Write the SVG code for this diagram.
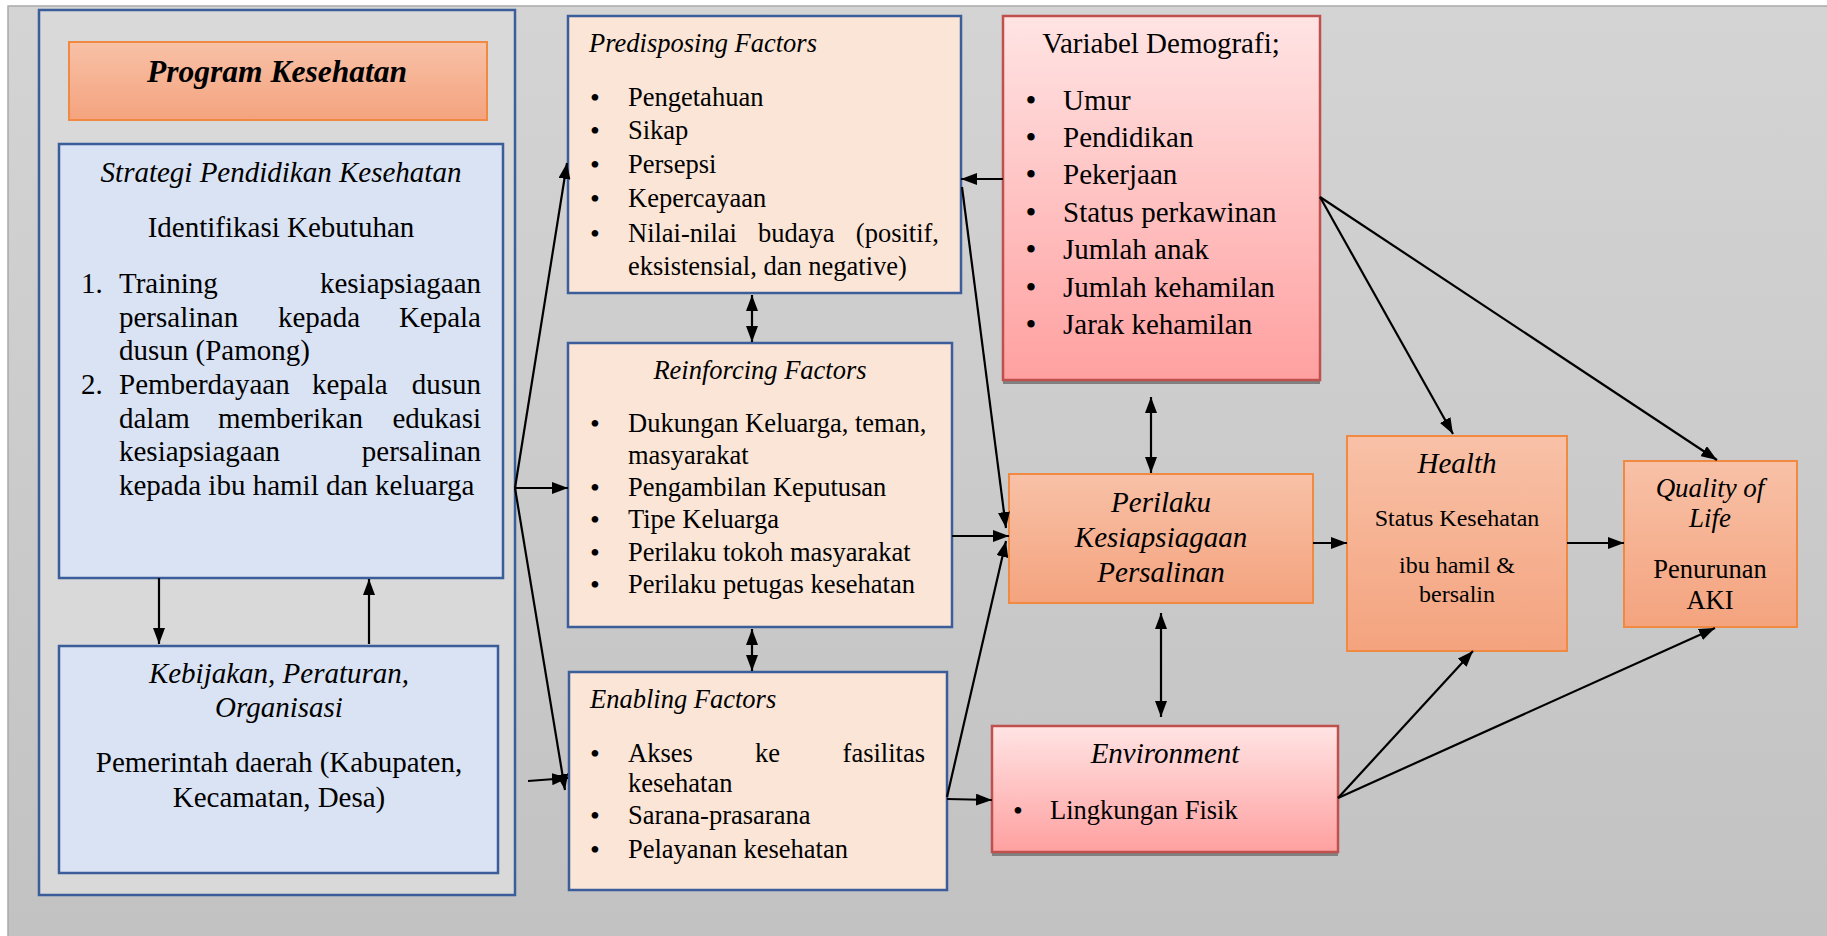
<svg xmlns="http://www.w3.org/2000/svg" width="1827" height="936" viewBox="0 0 1827 936">
<defs>
<linearGradient id="bg" x1="0" y1="0" x2="0" y2="1"><stop offset="0" stop-color="#d4d4d4"/><stop offset="1" stop-color="#c2c2c2"/></linearGradient>
<linearGradient id="org" x1="0" y1="0" x2="0" y2="1"><stop offset="0" stop-color="#f8c1a7"/><stop offset="1" stop-color="#f4a37e"/></linearGradient>
<linearGradient id="pnk" x1="0" y1="0" x2="0" y2="1"><stop offset="0" stop-color="#ffe4e4"/><stop offset="1" stop-color="#ffa0a0"/></linearGradient>
<marker id="ah" viewBox="0 0 16 12" refX="16" refY="6" markerWidth="16" markerHeight="12" markerUnits="userSpaceOnUse" orient="auto-start-reverse"><path d="M0,0 L16,6 L0,12 z" fill="#000"/></marker>
</defs>
<style>
.t{font-family:"Liberation Serif","Times New Roman",serif;fill:#000}
.i{font-style:italic}
.c{text-anchor:middle}
.e{text-anchor:end}
.f29{font-size:29px}
.f26{font-size:26.5px}
.f24{font-size:24px}
.f27{font-size:27px}
.bu{font-size:28px;text-anchor:middle}
.bd{font-size:31px;text-anchor:middle}
.blue{fill:#dae3f3;stroke:#3b5d9a;stroke-width:2.5}
.fac{fill:#fbe5d6;stroke:#3b5d9a;stroke-width:2.5}
.orange{fill:url(#org);stroke:#f08a43;stroke-width:2}
.pink{fill:url(#pnk);stroke:#c0504d;stroke-width:2.5}
.shadow{fill:#808080}
.ln{stroke:#000;stroke-width:2.2;fill:none}
.a{marker-end:url(#ah)}
.b{marker-start:url(#ah);marker-end:url(#ah)}
</style>
<rect x="0" y="0" width="1827" height="936" fill="#ffffff"/>
<rect x="8" y="6" width="1822" height="935" fill="url(#bg)" stroke="#a9a9a9" stroke-width="1.5"/>

<g id="program-outer">
<rect x="39" y="10" width="476" height="885" fill="#d9d9d9" stroke="#3b5d9a" stroke-width="2.5"/>
</g>
<g id="program-kesehatan">
<rect x="69" y="42" width="418" height="78" class="orange"/>
<text x="277" y="82" class="t c i" style="font-weight:bold;font-size:31.5px">Program Kesehatan</text>
</g>
<g id="strategi">
<rect x="59" y="144" width="444" height="434" class="blue"/>
<text x="281" y="182" class="t c i f29">Strategi Pendidikan Kesehatan</text>
<text x="281" y="237" class="t c f29">Identifikasi Kebutuhan</text>
<text x="81" y="293" class="t f29">1.</text>
<text x="119" y="293" class="t f29">Training</text>
<text x="481" y="293" class="t e f29">kesiapsiagaan</text>
<text x="119" y="327" class="t f29">persalinan</text>
<text x="278" y="327" class="t f29">kepada</text>
<text x="481" y="327" class="t e f29">Kepala</text>
<text x="119" y="360" class="t f29">dusun (Pamong)</text>
<text x="81" y="394" class="t f29">2.</text>
<text x="119" y="394" class="t f29">Pemberdayaan</text>
<text x="312" y="394" class="t f29">kepala</text>
<text x="481" y="394" class="t e f29">dusun</text>
<text x="119" y="428" class="t f29">dalam</text>
<text x="218" y="428" class="t f29">memberikan</text>
<text x="481" y="428" class="t e f29">edukasi</text>
<text x="119" y="461" class="t f29">kesiapsiagaan</text>
<text x="481" y="461" class="t e f29">persalinan</text>
<text x="119" y="495" class="t f29">kepada ibu hamil dan keluarga</text>
</g>
<g id="kebijakan">
<rect x="59" y="646" width="439" height="227" class="blue"/>
<text x="279" y="683" class="t c i f29">Kebijakan, Peraturan,</text>
<text x="279" y="717" class="t c i f29">Organisasi</text>
<text x="279" y="772" class="t c f29">Pemerintah daerah (Kabupaten,</text>
<text x="279" y="807" class="t c f29">Kecamatan, Desa)</text>
</g>

<g id="predisposing">
<rect x="568" y="16" width="393" height="277" class="fac"/>
<text x="589" y="52" class="t i f26">Predisposing Factors</text>
<g class="t f26">
<text x="595" y="107" class="bu">•</text><text x="628" y="106">Pengetahuan</text>
<text x="595" y="140" class="bu">•</text><text x="628" y="139">Sikap</text>
<text x="595" y="174" class="bu">•</text><text x="628" y="173">Persepsi</text>
<text x="595" y="208" class="bu">•</text><text x="628" y="207">Kepercayaan</text>
<text x="595" y="243" class="bu">•</text><text x="628" y="242">Nilai-nilai</text><text x="758" y="242">budaya</text><text x="939" y="242" class="e">(positif,</text>
<text x="628" y="275">eksistensial, dan negative)</text>
</g>
</g>
<g id="reinforcing">
<rect x="568" y="343" width="384" height="284" class="fac"/>
<text x="760" y="379" class="t c i f26">Reinforcing Factors</text>
<g class="t f26">
<text x="595" y="433" class="bu">•</text><text x="628" y="432">Dukungan Keluarga, teman,</text>
<text x="628" y="464">masyarakat</text>
<text x="595" y="497" class="bu">•</text><text x="628" y="496">Pengambilan Keputusan</text>
<text x="595" y="529" class="bu">•</text><text x="628" y="528">Tipe Keluarga</text>
<text x="595" y="562" class="bu">•</text><text x="628" y="561">Perilaku tokoh masyarakat</text>
<text x="595" y="594" class="bu">•</text><text x="628" y="593">Perilaku petugas kesehatan</text>
</g>
</g>
<g id="enabling">
<rect x="569" y="672" width="378" height="218" class="fac"/>
<text x="590" y="708" class="t i f26">Enabling Factors</text>
<g class="t f26">
<text x="595" y="763" class="bu">•</text><text x="628" y="762">Akses</text><text x="755" y="762">ke</text><text x="925" y="762" class="e">fasilitas</text>
<text x="628" y="792">kesehatan</text>
<text x="595" y="825" class="bu">•</text><text x="628" y="824">Sarana-prasarana</text>
<text x="595" y="859" class="bu">•</text><text x="628" y="858">Pelayanan kesehatan</text>
</g>
</g>

<g id="demografi">
<rect x="1003" y="20" width="317" height="364" class="shadow"/>
<rect x="1003" y="16" width="317" height="364" class="pink"/>
<g class="t f29">
<text x="1161" y="53" class="c">Variabel Demografi;</text>
<text x="1031" y="111" class="bd">•</text><text x="1063" y="110">Umur</text>
<text x="1031" y="148" class="bd">•</text><text x="1063" y="147">Pendidikan</text>
<text x="1031" y="185" class="bd">•</text><text x="1063" y="184">Pekerjaan</text>
<text x="1031" y="223" class="bd">•</text><text x="1063" y="222">Status perkawinan</text>
<text x="1031" y="260" class="bd">•</text><text x="1063" y="259">Jumlah anak</text>
<text x="1031" y="298" class="bd">•</text><text x="1063" y="297">Jumlah kehamilan</text>
<text x="1031" y="335" class="bd">•</text><text x="1063" y="334">Jarak kehamilan</text>
</g>
</g>
<g id="perilaku">
<rect x="1009" y="474" width="304" height="129" class="orange"/>
<text x="1161" y="512" class="t c i f29">Perilaku</text>
<text x="1161" y="547" class="t c i f29">Kesiapsiagaan</text>
<text x="1161" y="582" class="t c i f29">Persalinan</text>
</g>
<g id="environment">
<rect x="992" y="730" width="346" height="126" class="shadow"/>
<rect x="992" y="726" width="346" height="126" class="pink"/>
<text x="1165" y="763" class="t c i f29">Environment</text>
<text x="1018" y="820" class="t bu">•</text>
<text x="1050" y="819" class="t f26">Lingkungan Fisik</text>
</g>
<g id="health">
<rect x="1347" y="436" width="220" height="215" class="orange"/>
<text x="1457" y="473" class="t c i f29">Health</text>
<text x="1457" y="526" class="t c f24">Status Kesehatan</text>
<text x="1457" y="573" class="t c f24">ibu hamil &amp;</text>
<text x="1457" y="602" class="t c f24">bersalin</text>
</g>
<g id="quality">
<rect x="1624" y="461" width="173" height="166" class="orange"/>
<text x="1710" y="497" class="t c i f27">Quality of</text>
<text x="1710" y="527" class="t c i f27">Life</text>
<text x="1710" y="578" class="t c f26">Penurunan</text>
<text x="1710" y="609" class="t c f26">AKI</text>
</g>

<g id="connectors">
<line x1="159" y1="578" x2="159" y2="644" class="ln a"/>
<line x1="369" y1="644" x2="369" y2="579" class="ln a"/>
<line x1="515" y1="488" x2="567" y2="163" class="ln a"/>
<line x1="515" y1="488" x2="568" y2="488" class="ln a"/>
<line x1="515" y1="488" x2="565" y2="790" class="ln a"/>
<line x1="528" y1="781" x2="568" y2="778" class="ln a"/>
<line x1="752" y1="295" x2="752" y2="342" class="ln b"/>
<line x1="752" y1="629" x2="752" y2="671" class="ln b"/>
<line x1="1003" y1="179" x2="961" y2="179" class="ln a"/>
<line x1="962" y1="187" x2="1006" y2="528" class="ln a"/>
<line x1="952" y1="536" x2="1009" y2="536" class="ln a"/>
<line x1="947" y1="797" x2="1006" y2="541" class="ln a"/>
<line x1="947" y1="799" x2="992" y2="800" class="ln a"/>
<line x1="1151" y1="397" x2="1151" y2="473" class="ln b"/>
<line x1="1161" y1="613" x2="1161" y2="717" class="ln b"/>
<line x1="1313" y1="543" x2="1347" y2="543" class="ln a"/>
<line x1="1567" y1="543" x2="1624" y2="543" class="ln a"/>
<line x1="1320" y1="197" x2="1453" y2="434" class="ln a"/>
<line x1="1320" y1="197" x2="1717" y2="460" class="ln a"/>
<line x1="1338" y1="798" x2="1473" y2="651" class="ln a"/>
<line x1="1338" y1="798" x2="1715" y2="628" class="ln a"/>
</g>
</svg>
